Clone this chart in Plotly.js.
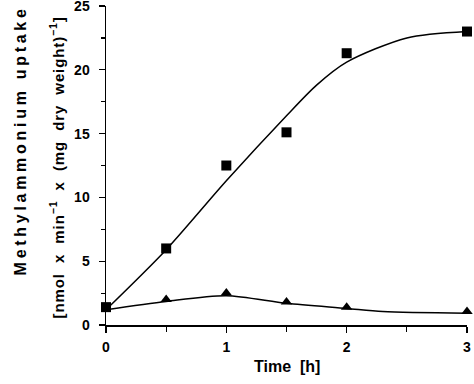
<!DOCTYPE html>
<html>
<head>
<meta charset="utf-8">
<script src="https://cdn.plot.ly/plotly-3.0.1.min.js"></script>
<style>
html,body{margin:0;padding:0;background:#fff;}
#chart{width:474px;height:384px;}
</style>
</head>
<body>
<div id="chart"></div>
<script>
// Measured data points
const timeH = [0, 0.5, 1, 1.5, 2, 3];
const squareUptake = [1.4, 6.0, 12.5, 15.1, 21.3, 23.0];
const triangleUptake = [1.2, 2.0, 2.5, 1.8, 1.4, 1.05];

// Fitted curves
const fitTimeSq = [0, 0.5, 1, 1.5, 1.75, 2, 2.5, 3];
const fitSquare = [1.2, 5.9, 11.3, 16.4, 18.8, 20.6, 22.5, 23.0];
const fitTimeTr = [0, 0.5, 1, 1.5, 2, 2.3, 3];
const fitTriangle = [1.2, 1.85, 2.3, 1.7, 1.3, 1.05, 0.92];

const xTickVals = [0, 1, 2, 3];
const yTickVals = [0, 5, 10, 15, 20, 25];

const fontFam = 'Liberation Sans, Arial, sans-serif';

const traces = [
  {x: fitTimeSq, y: fitSquare, mode: 'lines', line: {color: '#000', width: 1.5, shape: 'spline', smoothing: 0.8}, hoverinfo: 'skip', cliponaxis: false},
  {x: fitTimeTr, y: fitTriangle, mode: 'lines', line: {color: '#000', width: 1.5, shape: 'spline', smoothing: 0.8}, hoverinfo: 'skip', cliponaxis: false},
  {x: timeH, y: squareUptake, mode: 'markers', marker: {symbol: 'square', size: 10, color: '#000'}, cliponaxis: false},
  {x: timeH.slice(1), y: triangleUptake.slice(1), mode: 'markers', marker: {symbol: 'triangle-up', size: 10, color: '#000'}, cliponaxis: false}
];

const layout = {
  width: 474, height: 384,
  margin: {l: 106, r: 7, t: 6, b: 59},
  paper_bgcolor: '#fff', plot_bgcolor: '#fff',
  showlegend: false,
  font: {family: fontFam, size: 14, color: '#000', weight: 'bold'},
  xaxis: {
    range: [0, 3], tickvals: xTickVals, ticks: 'outside', ticklen: 6, tickwidth: 1.2, tickcolor: '#000',
    showline: true, linecolor: '#000', linewidth: 1.5, showgrid: false, zeroline: false,
    ticklabelstandoff: 3, ticklabeloverflow: 'allow',
    minor: {dtick: 0.5, ticks: 'outside', ticklen: 5, tickcolor: '#000', tickwidth: 1.2, showgrid: false},
    tickfont: {family: fontFam, size: 14, weight: 'bold'}
  },
  yaxis: {
    range: [0, 25.001], tickvals: yTickVals, ticks: 'outside', ticklen: 6, tickwidth: 1.2, tickcolor: '#000',
    showline: true, linecolor: '#000', linewidth: 1.5, showgrid: false, zeroline: false,
    ticklabelstandoff: 6, ticklabeloverflow: 'allow',
    minor: {dtick: 2.5, ticks: 'outside', ticklen: 4, tickcolor: '#000', tickwidth: 1.2, showgrid: false},
    tickfont: {family: fontFam, size: 14, weight: 'bold'}
  },
  annotations: [
    {text: 'Time  [h]', xref: 'paper', yref: 'paper', x: 0.5, y: 0, yshift: -52, showarrow: false,
     font: {family: fontFam, size: 16, weight: 'bold'}},
    {text: 'Methylammonium uptake', xref: 'paper', yref: 'paper', x: 0, xshift: -96, y: 0.577, textangle: -90, showarrow: false,
     font: {family: fontFam, size: 16, weight: 'bold'}},
    {text: '[nmol  x  min<sup>−1</sup>  x  (mg  dry  weight)<sup>−1</sup>]', xref: 'paper', yref: 'paper', x: 0, xshift: -61, y: 0.495, textangle: -90, showarrow: false,
     font: {family: fontFam, size: 15, weight: 'bold'}}
  ]
};

const targetLen = [null, 270, 302];
Plotly.newPlot('chart', traces, layout, {staticPlot: true}).then(() => {
  document.querySelectorAll('.annotation-text').forEach((t, i) => {
    if (!targetLen[i]) return;
    const n = t.textContent.replace(/\u200b/g, '').length;
    let ls = 0;
    const apply = v => {
      t.style.letterSpacing = v.toFixed(2) + 'px';
      t.querySelectorAll('tspan').forEach(s => s.style.letterSpacing = v.toFixed(2) + 'px');
    };
    for (let k = 0; k < 5; k++) {
      apply(ls);
      const r = t.getBoundingClientRect();
      const w = Math.max(r.width, r.height);
      ls = Math.max(0, ls + (targetLen[i] - w) / (n - 1));
    }
    apply(ls);
  });
});
</script>
</body>
</html>
